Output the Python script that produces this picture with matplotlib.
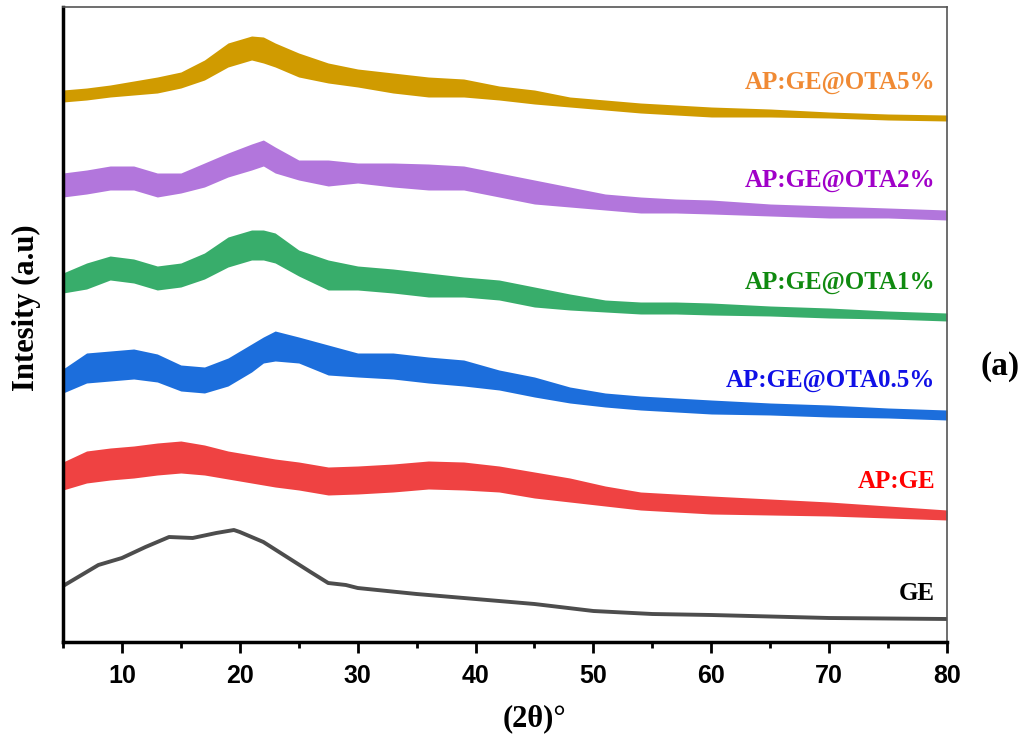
import matplotlib.pyplot as plt
from matplotlib.ticker import MultipleLocator

two_theta = [5, 7, 9, 11, 13, 15, 17, 19, 21, 22, 23, 25, 27.5, 30, 33, 36, 39,
             42, 45, 48, 51, 54, 57, 60, 65, 70, 75, 80]

# stacked intensities (a.u., already offset) and noise half-band
ota5 = [546, 548, 551, 554, 557, 562, 572, 587, 594, 592, 587, 577, 569, 564, 559, 555, 554,
        549, 545, 540, 537, 534, 532, 530, 529, 527, 525, 524]
ota5_noise = [6, 6, 6, 7, 8, 8, 10, 12, 12, 13, 12, 12, 10, 9, 10, 10, 9,
              7, 7, 5, 5, 5, 5, 5, 4, 3, 3, 3]
ota2 = [457, 460, 464, 464, 457, 459, 467, 477, 485, 489, 482, 472, 469, 469, 467, 465, 464,
        457, 450, 445, 440, 437, 436, 435, 432, 430, 429, 427]
ota2_noise = [12, 12, 12, 12, 12, 10, 12, 12, 13, 13, 13, 10, 13, 10, 12, 13, 12,
              12, 12, 10, 8, 8, 7, 7, 6, 6, 5, 5]
ota1 = [359, 366, 374, 371, 364, 367, 376, 390, 397, 397, 394, 379, 367, 364, 361, 357, 355,
        352, 345, 340, 336, 334, 334, 333, 331, 329, 327, 325]
ota1_noise = [10, 13, 12, 12, 12, 12, 13, 15, 15, 15, 15, 13, 15, 12, 12, 12, 10,
              10, 10, 8, 6, 6, 6, 6, 5, 5, 4, 4]
ota05 = [261, 274, 276, 278, 274, 264, 262, 270, 284, 292, 296, 292, 282, 277, 276, 272, 269,
         262, 255, 247, 242, 239, 237, 235, 233, 231, 229, 227]
ota05_noise = [12, 15, 15, 15, 14, 13, 13, 14, 14, 13, 15, 13, 15, 12, 13, 13, 13,
               10, 10, 8, 7, 7, 7, 7, 6, 6, 5, 5]
apge = [166, 175, 178, 180, 183, 185, 182, 177, 173, 171, 169, 166, 161, 162, 164, 167, 166,
        163, 157, 152, 146, 141, 139, 137, 135, 133, 130, 127]
apge_noise = [14, 16, 16, 16, 16, 16, 15, 14, 14, 14, 14, 14, 14, 14, 14, 14, 14,
              13, 13, 12, 10, 9, 9, 9, 8, 7, 6, 5]

ge_theta = [5, 7, 8, 10, 12, 14, 16, 18, 19.5, 20, 22, 24, 26, 27.5, 29, 30, 35, 40,
            45, 50, 55, 60, 70, 80]
ge = [56, 70, 77, 84, 95, 105, 104, 109, 112, 110, 100, 85, 70, 59, 57, 54, 48, 43,
      38, 31, 28, 27, 24, 23]

labels = ['AP:GE@OTA5%', 'AP:GE@OTA2%', 'AP:GE@OTA1%', 'AP:GE@OTA0.5%', 'AP:GE', 'GE']
label_y = [560, 462, 359, 262, 161, 49]

series = [(ota5, ota5_noise), (ota2, ota2_noise), (ota1, ota1_noise),
          (ota05, ota05_noise), (apge, apge_noise)]
line_colors = ['#D09B00', '#B276DC', '#38AD6B', '#1C6EDC', '#EF4242']
text_colors = ['#F08A34', '#A000C8', '#108A10', '#1010E6', '#FF0000', '#000000']

fig = plt.figure(figsize=(10.28, 7.42), dpi=100)
ax = fig.add_axes([63 / 1028, 1 - 642 / 742, 884 / 1028, 635 / 742])

for (vals, noise), c in zip(series, line_colors):
    lo = [v - n for v, n in zip(vals, noise)]
    hi = [v + n for v, n in zip(vals, noise)]
    ax.fill_between(two_theta, lo, hi, color=c, lw=0)
    ax.plot(two_theta, vals, color=c, lw=1.5)

ax.plot(ge_theta, ge, color='#4D4D4D', lw=2.8)

serif = ['Liberation Serif', 'DejaVu Serif']
for lab, ly, c in zip(labels, label_y, text_colors):
    ax.text(79.0, ly, lab, color=c, fontsize=18, fontweight='bold', family=serif,
            ha='right', va='center')

ax.set_xlim(5, 80)
ax.set_ylim(0, 635)
ax.xaxis.set_major_locator(MultipleLocator(10))
ax.xaxis.set_minor_locator(MultipleLocator(5))
ax.set_yticks([])
ax.tick_params(axis='x', which='major', direction='out', length=8, width=2, pad=8)
ax.tick_params(axis='x', which='minor', direction='out', length=4, width=2)
for t in ax.get_xticklabels():
    t.set_fontfamily(['Liberation Sans', 'DejaVu Sans'])
    t.set_fontweight('bold')
    t.set_fontsize(18)

ax.spines['left'].set_linewidth(2.5)
ax.spines['bottom'].set_linewidth(2.5)
for s in ['top', 'right']:
    ax.spines[s].set_linewidth(1.2)
    ax.spines[s].set_color('#555555')

ax.set_xlabel('(2θ)°', fontsize=22, fontweight='bold', family=serif)
ax.set_ylabel('Intesity (a.u)', fontsize=22, fontweight='bold', family=serif)
ax.xaxis.set_label_coords(0.533, -0.098)
ax.yaxis.set_label_coords(-0.025, 0.527)
fig.text(1000 / 1028, 1 - 366 / 742, '(a)', fontsize=24, fontweight='bold', family=serif,
         ha='center', va='center')

fig.savefig('out.png', dpi=100)
